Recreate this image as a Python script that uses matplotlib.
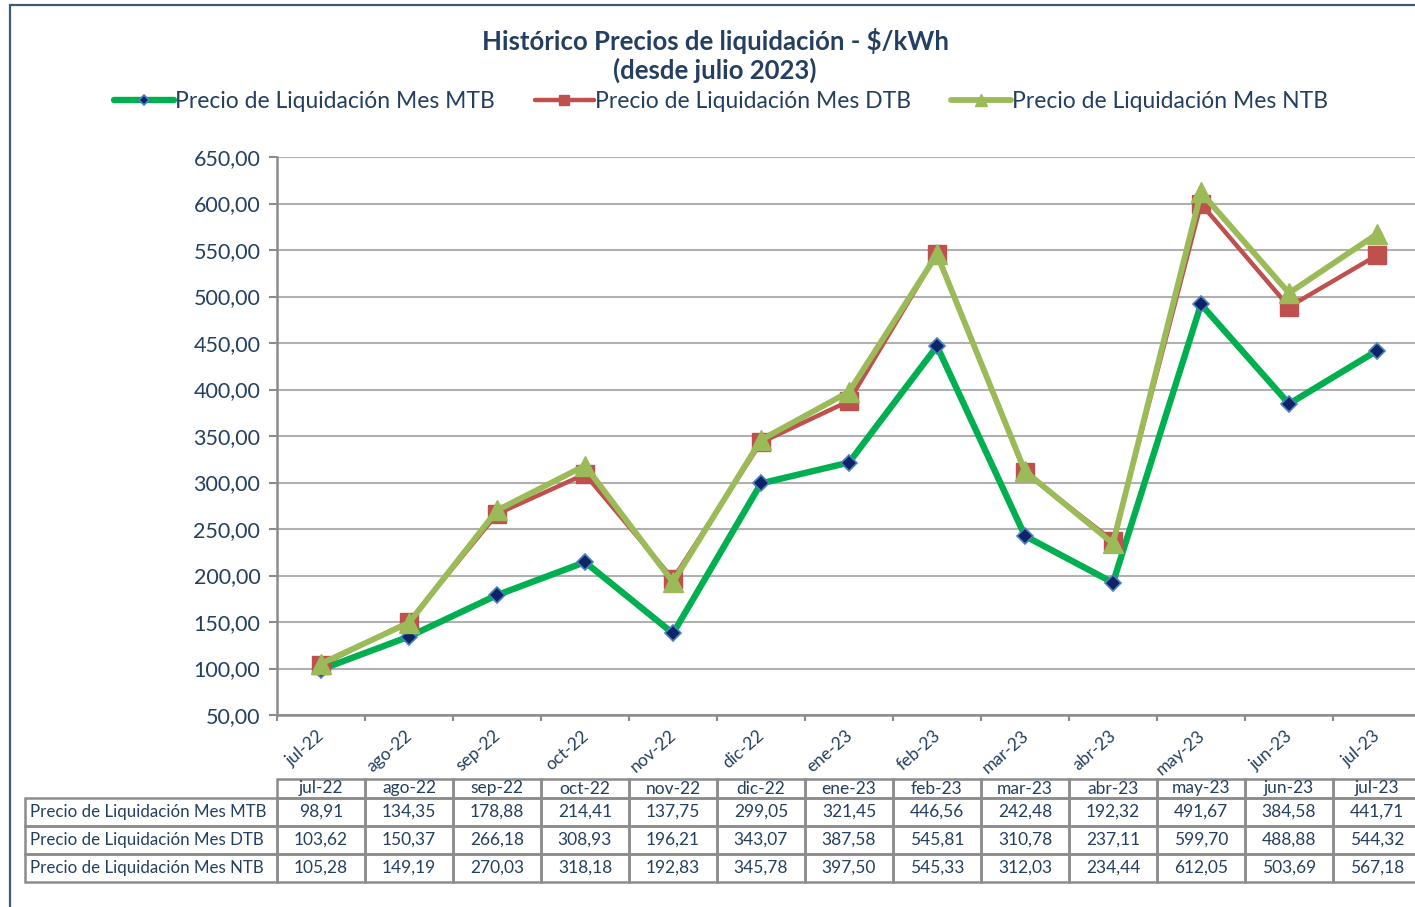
import matplotlib
matplotlib.use("Agg")
import matplotlib.pyplot as plt
import matplotlib.transforms as mtransforms
from matplotlib.patches import Rectangle

# data
months = ["jul-22", "ago-22", "sep-22", "oct-22", "nov-22", "dic-22", "ene-23",
          "feb-23", "mar-23", "abr-23", "may-23", "jun-23", "jul-23"]
mtb = [98.91, 134.35, 178.88, 214.41, 137.75, 299.05, 321.45, 446.56, 242.48, 192.32, 491.67, 384.58, 441.71]
dtb = [103.62, 150.37, 266.18, 308.93, 196.21, 343.07, 387.58, 545.81, 310.78, 237.11, 599.70, 488.88, 544.32]
ntb = [105.28, 149.19, 270.03, 318.18, 192.83, 345.78, 397.50, 545.33, 312.03, 234.44, 612.05, 503.69, 567.18]
series_names = ["Precio de Liquidación Mes MTB", "Precio de Liquidación Mes DTB",
                "Precio de Liquidación Mes NTB"]
y_ticks = [50, 100, 150, 200, 250, 300, 350, 400, 450, 500, 550, 600, 650]

W, H = 1415, 907
TXT = "#243F60"
GRID = "#B0B0B0"
plt.rcParams['font.family'] = ['Lato', 'DejaVu Sans']

fig = plt.figure(figsize=(W / 100, H / 100), dpi=100)


def fx(px):
    return px / W


def fy(py):
    return 1 - py / H


def fmt(v):
    return f"{v:.2f}".replace(".", ",")


# outer frame (only left and top visible)
fig.patches.append(Rectangle((fx(10), fy(W)), fx(W + 20), fy(5) - fy(W), transform=fig.transFigure,
                             fill=False, edgecolor="#3E5878", linewidth=1.6))

col_w = 88
ax_left, ax_right = 277, 277 + 13 * col_w
ax = fig.add_axes([fx(ax_left), fy(715), fx(ax_right - ax_left), fy(157) - fy(715)])

x = list(range(len(months)))
ax.plot(x, mtb, color="#00B050", lw=4.6, marker="D", ms=8, mfc="#0B2566", mec="#4F81BD", mew=1.2,
        label=series_names[0], zorder=3, solid_capstyle="round")
ax.plot(x, dtb, color="#C0504D", lw=3.2, marker="s", ms=13, mfc="#C0504D", mec="#C0504D",
        label=series_names[1], zorder=4, solid_capstyle="round")
ax.plot(x, ntb, color="#9BBB59", lw=4.2, marker="^", ms=15, mfc="#9BBB59", mec="#9BBB59",
        label=series_names[2], zorder=5, solid_capstyle="round")

ax.set_xlim(-0.5, 12.5)
ax.set_ylim(50, 650)
ax.set_yticks(y_ticks)
ax.set_yticklabels([fmt(v) for v in y_ticks], fontsize=15.5, color=TXT)
ax.yaxis.grid(True, color=GRID, lw=1.5)
ax.set_axisbelow(True)
for s in ["top", "right"]:
    ax.spines[s].set_visible(False)
for s in ["left", "bottom"]:
    ax.spines[s].set_color("#8C8C8C")
    ax.spines[s].set_linewidth(1.8)
ax.tick_params(axis="y", length=6, width=1.5, color="#8C8C8C", pad=6)

ax.set_xticks(x)
ax.set_xticklabels(months, rotation=41, ha="right", va="top", rotation_mode="anchor",
                   fontsize=12.5, color=TXT)
ax.tick_params(axis="x", which="major", length=0, pad=9)
ax.set_xticks([i - 0.5 for i in range(14)], minor=True)
ax.tick_params(axis="x", which="minor", length=4, width=1.5, color="#8C8C8C")

offset = mtransforms.ScaledTranslation(-4 / 100, 0, fig.dpi_scale_trans)
for lab in ax.get_xticklabels():
    lab.set_transform(lab.get_transform() + offset)

# title
fig.text(fx(715), fy(41), "Histórico Precios de liquidación - $/kWh", ha="center", va="center",
         fontsize=18.5, fontweight="bold", color=TXT)
fig.text(fx(715), fy(70), "(desde julio 2023)", ha="center", va="center",
         fontsize=18.5, fontweight="bold", color=TXT)

# legend
handles, labels = ax.get_legend_handles_labels()
leg = fig.legend(handles, labels, loc="center", bbox_to_anchor=(fx(721), fy(102)), ncol=3, frameon=False,
                 fontsize=16.5, handlelength=2.6, handletextpad=0.05, columnspacing=1.75,
                 numpoints=1, markerscale=0.6)
for t in leg.get_texts():
    t.set_color(TXT)

# data table
row_y = [779, 798, 826, 854, 882]
tbl_left = 25
edge = "#8C8C8C"


def cell(x0, x1, y0, y1, text, ha="center", fs=12.5):
    fig.patches.append(Rectangle((fx(x0), fy(y1)), fx(x1 - x0), fy(y0) - fy(y1), transform=fig.transFigure,
                                 fill=False, edgecolor=edge, linewidth=1.8))
    tx = (x0 + x1) / 2 if ha == "center" else x0 + 5
    fig.text(fx(tx), fy((y0 + y1) / 2), text, ha=ha, va="center", fontsize=fs, color=TXT)


for j, m in enumerate(months):
    x0 = ax_left + j * col_w
    cell(x0, x0 + col_w, row_y[0], row_y[1], m)

rows = [mtb, dtb, ntb]
for i, vals in enumerate(rows):
    y0, y1 = row_y[i + 1], row_y[i + 2]
    cell(tbl_left, ax_left, y0, y1, series_names[i], ha="left", fs=12.2)
    for j, v in enumerate(vals):
        x0 = ax_left + j * col_w
        cell(x0, x0 + col_w, y0, y1, fmt(v))

fig.savefig("out.png", dpi=100)
